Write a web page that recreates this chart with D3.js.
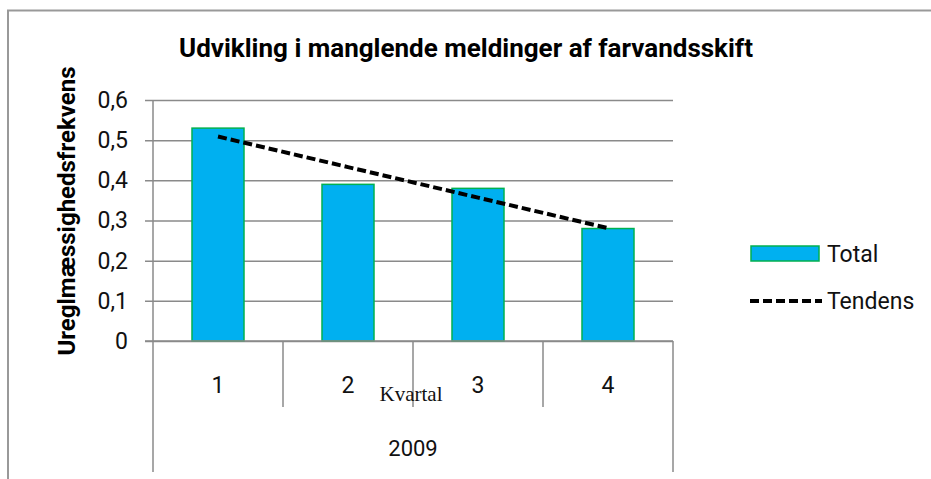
<!DOCTYPE html>
<html>
<head>
<meta charset="utf-8">
<script src="https://cdn.jsdelivr.net/npm/d3@7"></script>
<style>
  body { margin: 0; background: #fff; }
  svg text { font-family: Roboto, "Open Sans", sans-serif; }
</style>
</head>
<body>
<div id="chart-area"></div>
<script>
// data
var quarters = ["1", "2", "3", "4"];
var totals = [0.53, 0.39, 0.38, 0.28];
var yTicks = [0, 0.1, 0.2, 0.3, 0.4, 0.5, 0.6];
var yearLabel = "2009";

var width = 931, height = 479;
var margin = { left: 153, right: 258, top: 100, bottom: 138 };

var svg = d3.select("#chart-area").append("svg")
    .attr("width", width)
    .attr("height", height);

// outer chart frame (only left and top visible)
svg.append("rect")
    .attr("x", 8).attr("y", 10.5)
    .attr("width", 1000).attr("height", 1000)
    .attr("fill", "none")
    .attr("stroke", "#999")
    .attr("stroke-width", 2);

var x = d3.scaleBand()
    .domain(quarters)
    .range([margin.left, width - margin.right])
    .paddingInner(0.6)
    .paddingOuter(0.3);

var xBand = d3.scaleBand()
    .domain(quarters)
    .range([margin.left, width - margin.right]);

var y = d3.scaleLinear()
    .domain([0, 0.6])
    .range([height - margin.bottom, margin.top]);

var fmt = function(d){ return d === 0 ? "0" : d3.format(".1f")(d).replace(".", ","); };

// gridlines + y ticks
var yAxis = svg.append("g")
    .attr("transform", "translate(" + margin.left + ",0)")
    .call(d3.axisLeft(y)
        .tickValues(yTicks)
        .tickSize(-(width - margin.left - margin.right))
        .tickPadding(25)
        .tickFormat(fmt));
yAxis.select(".domain").remove();
yAxis.selectAll(".tick line")
    .attr("x1", -8)
    .attr("stroke", "#8a8a8a")
    .attr("stroke-width", 1.5);
yAxis.selectAll(".tick text")
    .attr("font-size", 23)
    .attr("fill", "#111")
    .attr("font-family", "Roboto, sans-serif");

// y axis line
svg.append("line")
    .attr("x1", margin.left).attr("x2", margin.left)
    .attr("y1", y(0.6)).attr("y2", y(0))
    .attr("stroke", "#8a8a8a").attr("stroke-width", 1.5);

// bars
svg.selectAll("rect.bar")
    .data(totals)
    .enter()
    .append("rect")
        .attr("class", "bar")
        .attr("x", function(d, i){ return x(quarters[i]); })
        .attr("y", function(d){ return y(d); })
        .attr("width", x.bandwidth())
        .attr("height", function(d){ return y(0) - y(d); })
        .attr("fill", "#00B0F0")
        .attr("stroke", "#00B050")
        .attr("stroke-width", 1.5);

// linear trend line (least squares over the bars)
var xs = quarters.map(function(q, i){ return i + 1; });
var mx = d3.mean(xs), my = d3.mean(totals);
var slope = d3.sum(xs, function(v, i){ return (v - mx) * (totals[i] - my); }) /
            d3.sum(xs, function(v){ return (v - mx) * (v - mx); });
var trend = xs.map(function(v){ return my + slope * (v - mx); });

var line = d3.line()
    .x(function(d, i){ return x(quarters[i]) + x.bandwidth() / 2; })
    .y(function(d){ return y(d); });

svg.append("path")
    .datum(trend)
    .attr("d", line)
    .attr("fill", "none")
    .attr("stroke", "#000")
    .attr("stroke-width", 4)
    .attr("stroke-dasharray", "9,4");

// category axis
var y0 = y(0);
svg.append("line")
    .attr("x1", margin.left - 8).attr("x2", width - margin.right)
    .attr("y1", y0).attr("y2", y0)
    .attr("stroke", "#8a8a8a").attr("stroke-width", 1.5);

var edges = quarters.map(function(q){ return xBand(q); }).concat([width - margin.right]);
svg.selectAll("line.sep")
    .data(edges)
    .enter()
    .append("line")
        .attr("class", "sep")
        .attr("x1", function(d){ return d; })
        .attr("x2", function(d){ return d; })
        .attr("y1", y0)
        .attr("y2", function(d, i){ return (i === 0 || i === edges.length - 1) ? 472 : 407; })
        .attr("stroke", "#8a8a8a").attr("stroke-width", 1.5);

svg.selectAll("text.cat")
    .data(quarters)
    .enter()
    .append("text")
        .attr("class", "cat")
        .attr("x", function(d){ return xBand(d) + xBand.bandwidth() / 2; })
        .attr("y", 393)
        .attr("text-anchor", "middle")
        .attr("font-size", 23)
        .attr("fill", "#111")
        .text(function(d){ return d; });

svg.append("text")
    .attr("x", (margin.left + width - margin.right) / 2)
    .attr("y", 456)
    .attr("text-anchor", "middle")
    .attr("font-size", 22)
    .attr("fill", "#111")
    .text(yearLabel);

svg.append("text")
    .attr("x", 411)
    .attr("y", 401)
    .attr("text-anchor", "middle")
    .attr("font-size", 21)
    .attr("fill", "#111")
    .style("font-family", "'Liberation Serif', 'DejaVu Serif', serif")
    .text("Kvartal");

// title
svg.append("text")
    .attr("x", 466)
    .attr("y", 57)
    .attr("text-anchor", "middle")
    .attr("font-size", 26)
    .attr("font-weight", "bold")
    .attr("fill", "#000")
    .text("Udvikling i manglende meldinger af farvandsskift");

// y title
svg.append("text")
    .attr("transform", "translate(75,211) rotate(-90)")
    .attr("text-anchor", "middle")
    .attr("font-size", 24)
    .attr("font-weight", "bold")
    .attr("fill", "#000")
    .text("Ureglmæssighedsfrekvens");

// legend
var legend = svg.append("g");
legend.append("rect")
    .attr("x", 751).attr("y", 246)
    .attr("width", 68).attr("height", 15)
    .attr("fill", "#00B0F0")
    .attr("stroke", "#00B050")
    .attr("stroke-width", 1.5);
legend.append("text")
    .attr("x", 827).attr("y", 262)
    .attr("font-size", 23)
    .attr("fill", "#111")
    .text("Total");
legend.append("line")
    .attr("x1", 750).attr("x2", 822)
    .attr("y1", 301).attr("y2", 301)
    .attr("stroke", "#000")
    .attr("stroke-width", 4)
    .attr("stroke-dasharray", "9,4");
legend.append("text")
    .attr("x", 827).attr("y", 309)
    .attr("font-size", 23)
    .attr("fill", "#111")
    .text("Tendens");
</script>
</body>
</html>
